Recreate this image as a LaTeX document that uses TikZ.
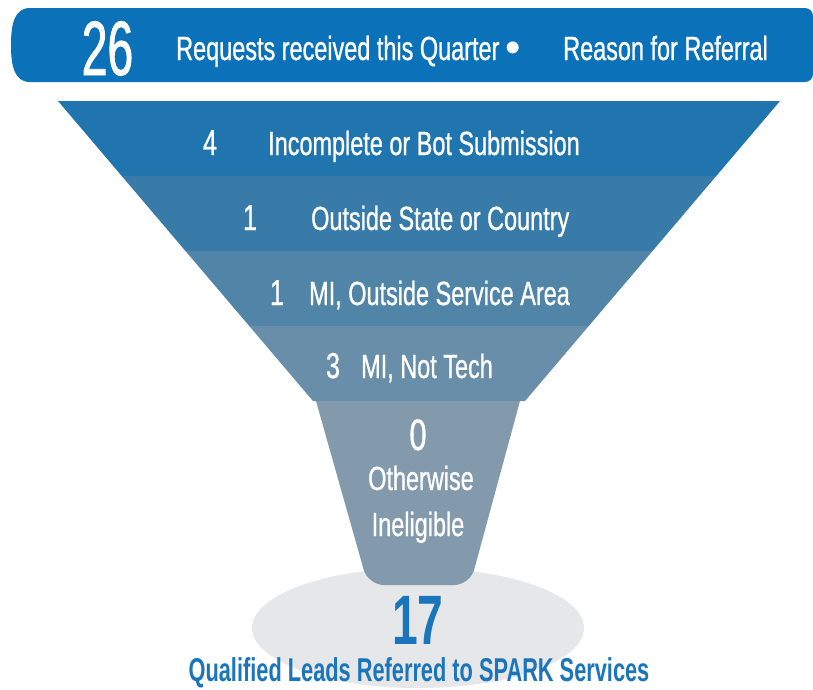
\documentclass[tikz,border=0pt]{standalone}
\usepackage{fontspec}
\usepackage{xcolor}
\usepackage{tikz}
\setmainfont{Liberation Sans}
\newfontfamily\condfont[FakeStretch=0.7,FakeBold=0.8]{Liberation Sans}
\newfontfamily\numfont[FakeStretch=0.6,FakeBold=1]{Liberation Sans}
\newfontfamily\boldcond[FakeStretch=0.66]{Liberation Sans}
\newfontfamily\plainfont{Liberation Sans}

\definecolor{head_blue}{HTML}{0B72B9}
\definecolor{band_one}{HTML}{2175AF}
\definecolor{band_two}{HTML}{387BA8}
\definecolor{band_three}{HTML}{5085A8}
\definecolor{band_four}{HTML}{688EAA}
\definecolor{neck_grey}{HTML}{839AAD}
\definecolor{base_grey}{HTML}{E6E7E8}
\definecolor{lead_blue}{HTML}{1B75BA}

\begin{document}
\begin{tikzpicture}[x=1pt, y=-1pt]
            % Text styles
            \tikzstyle{white_text} = [text=white, inner sep=0pt, font=\condfont\fontsize{33.5}{36}\selectfont]
            \tikzstyle{band_num} = [text=white, inner sep=0pt, font=\condfont\fontsize{36}{38}\selectfont]
            \tikzstyle{lead_text} = [text=lead_blue, inner sep=0pt, font=\boldcond\bfseries\fontsize{33}{35}\selectfont]
            \useasboundingbox (0,0) rectangle (813,689);
            % Header bar
            \fill[head_blue] (30,8) [rounded corners=8pt] -- (813,8) -- (813,82) [sharp corners] -- (30,82)
                .. controls (14,82) and (11,65) .. (11,45) .. controls (11,25) and (14,8) .. (30,8) -- cycle;
            \node[anchor=base, text=white, inner sep=0pt, font=\numfont\fontsize{77}{80}\selectfont] (total_num) at (107.5,75) {26};
            \node[white_text, anchor=base west] (total_text) at (176,60) {Requests received this Quarter {\plainfont\fontsize{44}{44}\selectfont\raisebox{-2pt}{•}}};
            \node[white_text, anchor=base west] (reason) at (563,60) {Reason for Referral};
            % Funnel
            \fill[base_grey] (418,628) ellipse [x radius=166pt, y radius=60pt];
            \fill[band_one] (58,101) -- (780,101) -- (716.25,176) -- (121.75,176) -- cycle;
            \fill[band_two] (121.75,176) -- (716.25,176) -- (652.5,251) -- (185.5,251) -- cycle;
            \fill[band_three] (185.5,251) -- (652.5,251) -- (588.75,326) -- (249.25,326) -- cycle;
            \fill[band_four] (249.25,326) -- (588.75,326) -- (525,401) -- (313,401) -- cycle;
            \fill[neck_grey] (316,401) [rounded corners=16pt] -- (368,585) -- (470,585) [sharp corners] -- (520,401) -- cycle;
            % Reasons
            \node[band_num, anchor=base] (incomplete_num) at (210,155) {4};
            \node[white_text, anchor=base west] (incomplete) at (268,155) {Incomplete or Bot Submission};
            \node[band_num, anchor=base] (outside_num) at (250,230) {1};
            \node[white_text, anchor=base west] (outside) at (311,230) {Outside State or Country};
            \node[band_num, anchor=base] (service_num) at (277,305) {1};
            \node[white_text, anchor=base west] (service) at (309,305) {MI, Outside Service Area};
            \node[band_num, anchor=base] (not_tech_num) at (333,378) {3};
            \node[white_text, anchor=base west] (not_tech) at (361,378) {MI, Not Tech};
            \node[band_num, anchor=base, font=\condfont\fontsize{44}{44}\selectfont] (other_num) at (418,450) {0};
            \node[white_text, anchor=base] (other) at (421,490) {Otherwise};
            \node[white_text, anchor=base] (ineligible) at (418,536) {Ineligible};
            % Result
            \node[lead_text, anchor=base, font=\boldcond\bfseries\fontsize{70}{70}\selectfont] (leads_num) at (418,644) {17};
            \node[lead_text, anchor=base] (leads) at (419,681) {Qualified Leads Referred to SPARK Services};
        \end{tikzpicture}
\end{document}
